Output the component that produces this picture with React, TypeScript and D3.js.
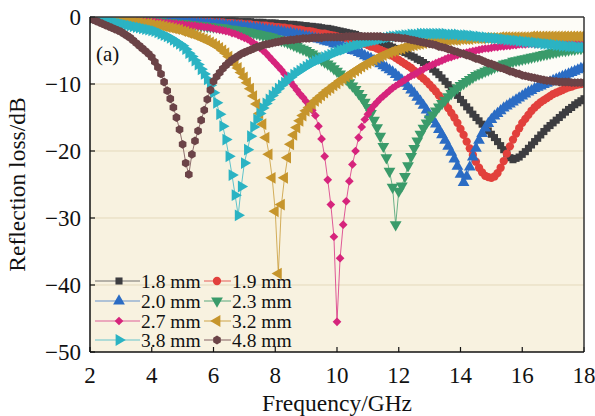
import * as d3 from 'd3'

// frequency grid (GHz)
const freqs = d3.range(161).map(i => Math.round((2 + i * 0.1) * 10) / 10)

const yTicks = [0, -10, -20, -30, -40, -50]
const xTicks = [2, 4, 6, 8, 10, 12, 14, 16, 18]

// reflection loss (dB), one array per thickness
const rl18 = [
  0, 0, -0.1, -0.1, -0.1, -0.1, -0.1, -0.2, -0.2, -0.2,
  -0.2, -0.2, -0.2, -0.2, -0.3, -0.3, -0.3, -0.3, -0.3, -0.3,
  -0.3, -0.3, -0.3, -0.4, -0.4, -0.4, -0.4, -0.4, -0.4, -0.4,
  -0.4, -0.4, -0.4, -0.4, -0.5, -0.5, -0.5, -0.5, -0.5, -0.5,
  -0.5, -0.5, -0.5, -0.6, -0.6, -0.6, -0.6, -0.6, -0.7, -0.7,
  -0.7, -0.7, -0.7, -0.8, -0.8, -0.8, -0.8, -0.9, -0.9, -0.9,
  -0.9, -1.0, -1.0, -1.0, -1.1, -1.1, -1.1, -1.2, -1.2, -1.3,
  -1.3, -1.4, -1.4, -1.5, -1.5, -1.6, -1.7, -1.7, -1.8, -1.9,
  -2.0, -2.1, -2.2, -2.3, -2.4, -2.5, -2.6, -2.8, -2.9, -3.0,
  -3.2, -3.3, -3.5, -3.6, -3.8, -3.9, -4.1, -4.3, -4.5, -4.7,
  -4.9, -5.1, -5.3, -5.5, -5.8, -6.0, -6.3, -6.5, -6.8, -7.1,
  -7.4, -7.8, -8.2, -8.6, -9.1, -9.6, -10.1, -10.6, -11.2, -11.7,
  -12.3, -12.8, -13.4, -13.9, -14.5, -15.0, -15.5, -16.0, -16.5, -17.0,
  -17.5, -18.0, -18.6, -19.2, -19.8, -20.4, -21.0, -21.3, -21.1, -20.9,
  -20.5, -20.1, -19.6, -19.1, -18.6, -18.1, -17.6, -17.1, -16.6, -16.2,
  -15.8, -15.4, -15.0, -14.6, -14.2, -13.8, -13.5, -13.1, -12.8, -12.5,
  -12.2,
]

const rl19 = [
  0, 0, -0.1, -0.1, -0.1, -0.1, -0.1, -0.2, -0.2, -0.2,
  -0.2, -0.2, -0.2, -0.3, -0.3, -0.3, -0.3, -0.3, -0.3, -0.4,
  -0.4, -0.4, -0.4, -0.4, -0.4, -0.5, -0.5, -0.5, -0.5, -0.5,
  -0.5, -0.6, -0.6, -0.6, -0.6, -0.6, -0.7, -0.7, -0.7, -0.7,
  -0.8, -0.8, -0.8, -0.8, -0.9, -0.9, -0.9, -1.0, -1.0, -1.0,
  -1.1, -1.1, -1.1, -1.2, -1.2, -1.3, -1.3, -1.3, -1.4, -1.4,
  -1.5, -1.5, -1.6, -1.6, -1.7, -1.7, -1.8, -1.9, -1.9, -2.0,
  -2.1, -2.1, -2.2, -2.3, -2.4, -2.5, -2.5, -2.6, -2.7, -2.8,
  -2.9, -3.0, -3.1, -3.2, -3.4, -3.5, -3.6, -3.7, -3.9, -4.0,
  -4.2, -4.4, -4.5, -4.7, -4.9, -5.1, -5.3, -5.6, -5.8, -6.1,
  -6.4, -6.7, -7.0, -7.3, -7.6, -8.0, -8.4, -8.8, -9.2, -9.6,
  -10.1, -10.6, -11.1, -11.7, -12.3, -12.9, -13.6, -14.3, -15.0, -15.8,
  -16.7, -17.6, -18.6, -19.6, -20.6, -21.6, -22.5, -23.2, -23.7, -23.9,
  -24.0, -23.8, -23.3, -22.5, -21.5, -20.4, -19.3, -18.3, -17.4, -16.6,
  -15.8, -15.2, -14.6, -14.0, -13.5, -13.1, -12.7, -12.4, -12.1, -11.8,
  -11.5, -11.3, -11.1, -10.9, -10.7, -10.5, -10.4, -10.2, -10.1, -10.0,
  -9.9,
]

const rl20 = [
  0, 0, -0.1, -0.1, -0.1, -0.1, -0.2, -0.2, -0.2, -0.2,
  -0.3, -0.3, -0.3, -0.3, -0.3, -0.4, -0.4, -0.4, -0.4, -0.5,
  -0.5, -0.5, -0.5, -0.6, -0.6, -0.6, -0.6, -0.7, -0.7, -0.7,
  -0.7, -0.8, -0.8, -0.8, -0.9, -0.9, -0.9, -1.0, -1.0, -1.0,
  -1.1, -1.1, -1.1, -1.2, -1.2, -1.3, -1.3, -1.3, -1.4, -1.4,
  -1.5, -1.5, -1.6, -1.6, -1.7, -1.7, -1.8, -1.9, -1.9, -2.0,
  -2.1, -2.1, -2.2, -2.3, -2.4, -2.4, -2.5, -2.6, -2.7, -2.8,
  -2.9, -3.0, -3.1, -3.2, -3.3, -3.4, -3.6, -3.7, -3.8, -4.0,
  -4.1, -4.3, -4.4, -4.6, -4.8, -5.0, -5.1, -5.3, -5.5, -5.8,
  -6.0, -6.2, -6.5, -6.7, -7.0, -7.3, -7.6, -7.9, -8.2, -8.6,
  -9.0, -9.4, -9.9, -10.4, -10.9, -11.4, -12.0, -12.6, -13.2, -13.9,
  -14.6, -15.3, -16.0, -16.8, -17.6, -18.4, -19.3, -20.2, -21.2, -22.3,
  -23.5, -24.7, -23.8, -22.4, -20.9, -19.6, -18.4, -17.4, -16.6, -15.9,
  -15.3, -14.8, -14.4, -14.0, -13.6, -13.3, -13.0, -12.7, -12.4, -12.1,
  -11.8, -11.5, -11.2, -11.0, -10.7, -10.5, -10.3, -10.1, -9.9, -9.7,
  -9.5, -9.3, -9.1, -8.9, -8.7, -8.5, -8.3, -8.1, -7.9, -7.7,
  -7.6,
]

const rl23 = [
  0, 0, -0.1, -0.1, -0.1, -0.2, -0.2, -0.2, -0.3, -0.3,
  -0.3, -0.3, -0.4, -0.4, -0.4, -0.5, -0.5, -0.5, -0.6, -0.6,
  -0.6, -0.7, -0.7, -0.7, -0.8, -0.8, -0.8, -0.9, -0.9, -1.0,
  -1.0, -1.0, -1.1, -1.1, -1.2, -1.2, -1.3, -1.3, -1.4, -1.4,
  -1.5, -1.5, -1.6, -1.6, -1.7, -1.8, -1.8, -1.9, -2.0, -2.0,
  -2.1, -2.2, -2.3, -2.4, -2.5, -2.6, -2.7, -2.8, -2.9, -3.0,
  -3.2, -3.3, -3.5, -3.6, -3.8, -4.0, -4.2, -4.4, -4.6, -4.8,
  -5.0, -5.3, -5.5, -5.8, -6.1, -6.4, -6.7, -7.0, -7.3, -7.7,
  -8.1, -8.5, -8.9, -9.3, -9.8, -10.3, -10.8, -11.4, -12.0, -12.7,
  -13.5, -14.4, -15.4, -16.5, -17.8, -19.3, -21.0, -23.0, -25.4, -31.0,
  -26.0, -25.2, -23.8, -22.2, -20.8, -19.6, -18.5, -17.5, -16.6, -15.8,
  -15.2, -14.6, -14.0, -13.4, -12.9, -12.4, -11.9, -11.4, -11.0, -10.6,
  -10.2, -9.9, -9.6, -9.3, -9.0, -8.7, -8.5, -8.3, -8.1, -7.9,
  -7.7, -7.5, -7.3, -7.2, -7.0, -6.9, -6.8, -6.6, -6.5, -6.4,
  -6.3, -6.2, -6.1, -6.0, -5.9, -5.8, -5.7, -5.6, -5.5, -5.4,
  -5.3, -5.2, -5.1, -5.0, -5.0, -4.9, -4.8, -4.8, -4.7, -4.7,
  -4.6,
]

const rl27 = [
  0, -0.1, -0.1, -0.1, -0.2, -0.2, -0.2, -0.3, -0.3, -0.3,
  -0.4, -0.4, -0.4, -0.5, -0.5, -0.5, -0.6, -0.6, -0.6, -0.7,
  -0.7, -0.7, -0.8, -0.8, -0.9, -0.9, -0.9, -1.0, -1.0, -1.1,
  -1.1, -1.2, -1.2, -1.3, -1.3, -1.4, -1.4, -1.5, -1.5, -1.6,
  -1.7, -1.8, -1.9, -2.0, -2.1, -2.2, -2.4, -2.5, -2.7, -2.9,
  -3.1, -3.3, -3.6, -3.9, -4.2, -4.6, -5.0, -5.4, -5.9, -6.4,
  -6.9, -7.4, -7.9, -8.5, -9.1, -9.7, -10.3, -10.9, -11.5, -12.0,
  -12.6, -13.2, -13.9, -14.7, -16.3, -18.2, -20.8, -24.3, -28.0, -32.8,
  -45.5, -36.0, -31.0, -27.5, -24.5, -22.0, -20.0, -18.0, -16.4, -15.3,
  -14.5, -13.8, -13.2, -12.7, -12.2, -11.8, -11.4, -11.0, -10.6, -10.3,
  -10.0, -9.7, -9.4, -9.1, -8.8, -8.6, -8.3, -8.0, -7.8, -7.5,
  -7.3, -7.1, -6.9, -6.7, -6.5, -6.3, -6.1, -6.0, -5.8, -5.7,
  -5.5, -5.4, -5.3, -5.2, -5.1, -5.0, -4.9, -4.8, -4.7, -4.7,
  -4.6, -4.5, -4.5, -4.4, -4.4, -4.3, -4.3, -4.2, -4.2, -4.1,
  -4.1, -4.1, -4.0, -4.0, -4.0, -4.0, -3.9, -3.9, -3.9, -3.9,
  -3.9, -3.9, -3.9, -3.9, -3.9, -3.9, -3.9, -3.9, -3.9, -3.9,
  -3.9,
]

const rl32 = [
  0, -0.1, -0.1, -0.2, -0.2, -0.3, -0.3, -0.4, -0.4, -0.5,
  -0.5, -0.6, -0.6, -0.7, -0.7, -0.8, -0.8, -0.9, -1.0, -1.0,
  -1.1, -1.2, -1.2, -1.3, -1.4, -1.5, -1.6, -1.7, -1.8, -1.9,
  -2.1, -2.2, -2.4, -2.5, -2.7, -2.9, -3.1, -3.3, -3.5, -3.8,
  -4.0, -4.3, -4.6, -5.0, -5.4, -5.9, -6.4, -7.0, -7.6, -8.3,
  -9.0, -9.8, -10.7, -11.8, -13.0, -14.4, -16.0, -18.0, -20.5, -24.0,
  -29.0, -38.3, -28.0, -24.0, -21.0, -19.0, -17.6, -16.5, -15.5, -14.7,
  -14.0, -13.5, -13.0, -12.5, -12.1, -11.7, -11.3, -10.9, -10.6, -10.2,
  -9.9, -9.5, -9.2, -8.9, -8.6, -8.3, -8.0, -7.7, -7.4, -7.1,
  -6.9, -6.6, -6.4, -6.1, -5.9, -5.7, -5.5, -5.3, -5.1, -5.0,
  -4.8, -4.7, -4.5, -4.4, -4.3, -4.2, -4.1, -4.0, -3.9, -3.8,
  -3.8, -3.7, -3.7, -3.6, -3.6, -3.5, -3.5, -3.4, -3.4, -3.4,
  -3.3, -3.3, -3.3, -3.3, -3.2, -3.2, -3.2, -3.2, -3.1, -3.1,
  -3.1, -3.1, -3.1, -3.0, -3.0, -3.0, -3.0, -3.0, -3.0, -3.0,
  -3.0, -3.0, -3.0, -2.9, -2.9, -2.9, -2.9, -2.9, -2.9, -2.9,
  -2.9, -2.9, -2.9, -2.9, -2.9, -2.9, -2.9, -2.9, -2.9, -2.9,
  -2.9,
]

const rl38 = [
  0, -0.1, -0.2, -0.3, -0.4, -0.5, -0.6, -0.7, -0.8, -0.9,
  -1.0, -1.1, -1.2, -1.3, -1.4, -1.5, -1.6, -1.7, -1.8, -1.9,
  -2.0, -2.1, -2.3, -2.5, -2.7, -2.9, -3.1, -3.4, -3.7, -4.0,
  -4.3, -4.8, -5.4, -5.9, -6.5, -7.1, -7.8, -8.5, -9.3, -10.2,
  -11.3, -12.8, -14.5, -16.3, -18.3, -20.8, -23.6, -26.6, -29.6, -25.3,
  -21.8, -19.8, -17.8, -16.4, -15.3, -14.4, -13.6, -12.9, -12.3, -11.7,
  -11.2, -10.7, -10.2, -9.8, -9.4, -9.0, -8.6, -8.3, -8.0, -7.7,
  -7.4, -7.1, -6.9, -6.6, -6.4, -6.2, -6.0, -5.8, -5.6, -5.4,
  -5.2, -5.0, -4.9, -4.7, -4.5, -4.4, -4.2, -4.1, -4.0, -3.8,
  -3.7, -3.6, -3.5, -3.4, -3.3, -3.2, -3.1, -3.0, -2.9, -2.9,
  -2.8, -2.8, -2.7, -2.7, -2.6, -2.6, -2.6, -2.5, -2.5, -2.5,
  -2.5, -2.5, -2.5, -2.5, -2.5, -2.5, -2.6, -2.6, -2.6, -2.6,
  -2.7, -2.7, -2.7, -2.8, -2.8, -2.9, -2.9, -3.0, -3.0, -3.1,
  -3.1, -3.2, -3.2, -3.3, -3.3, -3.4, -3.4, -3.5, -3.5, -3.6,
  -3.6, -3.7, -3.7, -3.8, -3.8, -3.9, -3.9, -4.0, -4.0, -4.1,
  -4.1, -4.2, -4.2, -4.3, -4.3, -4.4, -4.4, -4.4, -4.5, -4.5,
  -4.5,
]

const rl48 = [
  -0.3, -0.4, -0.6, -0.8, -1.0, -1.2, -1.4, -1.6, -1.8, -2.0,
  -2.2, -2.5, -2.8, -3.1, -3.5, -3.9, -4.3, -4.7, -5.1, -5.5,
  -6.0, -6.7, -7.5, -8.5, -9.7, -11.0, -12.2, -13.5, -15.0, -16.8,
  -19.0, -21.8, -23.5, -20.5, -18.5, -17.0, -15.4, -13.9, -12.3, -10.9,
  -9.6, -8.9, -8.3, -7.7, -7.2, -6.8, -6.4, -6.1, -5.8, -5.5,
  -5.3, -5.1, -4.9, -4.7, -4.5, -4.4, -4.2, -4.1, -4.0, -3.9,
  -3.8, -3.7, -3.6, -3.5, -3.5, -3.4, -3.4, -3.3, -3.3, -3.2,
  -3.2, -3.2, -3.1, -3.1, -3.1, -3.1, -3.0, -3.0, -3.0, -3.0,
  -3.0, -3.0, -3.0, -2.9, -2.9, -2.9, -2.9, -2.9, -2.9, -2.9,
  -2.9, -2.9, -2.9, -2.9, -2.9, -3.0, -3.0, -3.0, -3.0, -3.1,
  -3.1, -3.2, -3.2, -3.3, -3.4, -3.5, -3.6, -3.7, -3.8, -3.9,
  -4.0, -4.1, -4.2, -4.4, -4.5, -4.6, -4.8, -4.9, -5.1, -5.2,
  -5.4, -5.5, -5.7, -5.8, -6.0, -6.2, -6.3, -6.5, -6.7, -6.9,
  -7.0, -7.2, -7.4, -7.6, -7.7, -7.9, -8.1, -8.2, -8.4, -8.5,
  -8.7, -8.8, -8.9, -9.0, -9.1, -9.2, -9.3, -9.4, -9.5, -9.5,
  -9.6, -9.6, -9.7, -9.7, -9.7, -9.7, -9.8, -9.8, -9.8, -9.8,
  -9.8,
]

const labels = ['1.8 mm', '1.9 mm', '2.0 mm', '2.3 mm', '2.7 mm', '3.2 mm', '3.8 mm', '4.8 mm']
const values = [rl18, rl19, rl20, rl23, rl27, rl32, rl38, rl48]
const colors = ['#3d3d40', '#e2403c', '#2b6cc4', '#3a9b6a', '#d6247c', '#c6952c', '#2bb3c3', '#6b4347']
const shapes = ['square', 'circle', 'up', 'down', 'diamond', 'left', 'right', 'hex']

const W = 595
const H = 416
const margin = { top: 17, right: 11, bottom: 64, left: 90 }
const FONT = '"Liberation Serif", "Times New Roman", serif'

const hexPath = (() => {
  const r = 4.4
  const pts = d3.range(6).map(i => {
    const a = (Math.PI / 3) * i + Math.PI / 6
    return [r * Math.cos(a), r * Math.sin(a)]
  })
  return 'M' + pts.map(p => p.join(',')).join('L') + 'Z'
})()

function markerPath(shape) {
  switch (shape) {
    case 'square': return d3.symbol(d3.symbolSquare, 50)()
    case 'circle': return d3.symbol(d3.symbolCircle, 54)()
    case 'diamond': return d3.symbol(d3.symbolSquare, 38)()
    case 'hex': return hexPath
    default: return d3.symbol(d3.symbolTriangle, 60)()
  }
}

function markerRotate(shape) {
  if (shape === 'down') return 180
  if (shape === 'left') return -90
  if (shape === 'right') return 90
  if (shape === 'diamond') return 45
  return 0
}

export default function App() {
  const iw = W - margin.left - margin.right
  const ih = H - margin.top - margin.bottom

  const x = d3.scaleLinear().domain([2, 18]).range([0, iw])
  const y = d3.scaleLinear().domain([0, -50]).range([0, ih])

  const line = d3.line<number>()
    .x((_, i) => x(freqs[i]))
    .y(d => y(d))

  const legendRows = [281, 301, 321, 340].map(v => v - margin.top)
  const legendCols = [
    { x1: 5, x2: 50, m: 29, tx: 51 },
    { x1: 114, x2: 141, m: 127, tx: 142 },
  ]

  return (
    <svg width={W} height={H} style={{ display: 'block', position: 'absolute', left: 0, top: 0 }}>
      <defs>
        <clipPath id="plot-clip">
          <rect x={0} y={0} width={iw} height={ih} />
        </clipPath>
      </defs>
      <g transform={`translate(${margin.left},${margin.top})`}>
        {/* background bands */}
        <rect x={0} y={0} width={iw} height={y(-10)} fill="#fdfcf7" />
        <rect x={0} y={y(-10)} width={iw} height={ih - y(-10)} fill="#f8f2e0" />
        {yTicks.slice(1, -1).map(t => (
          <line key={t} x1={0} x2={iw} y1={y(t)} y2={y(t)} stroke="#e4d9bb" strokeWidth={1} />
        ))}

        {/* curves */}
        <g clipPath="url(#plot-clip)">
          {values.map((vals, si) => (
            <g key={labels[si]}>
              <path d={line(vals)} fill="none" stroke={colors[si]} strokeOpacity={0.75} strokeWidth={1} />
              {vals.map((v, i) => (
                <path
                  key={i}
                  d={markerPath(shapes[si])}
                  transform={`translate(${x(freqs[i])},${y(v)}) rotate(${markerRotate(shapes[si])})`}
                  fill={colors[si]}
                />
              ))}
            </g>
          ))}
        </g>

        {/* legend */}
        {labels.map((lab, i) => {
          const col = legendCols[i % 2]
          const cy = legendRows[Math.floor(i / 2)]
          return (
            <g key={lab}>
              <line x1={col.x1} x2={col.x2} y1={cy} y2={cy} stroke={colors[i]} strokeOpacity={0.7} strokeWidth={1.2} />
              <path
                d={markerPath(shapes[i])}
                transform={`translate(${col.m},${cy}) rotate(${markerRotate(shapes[i])})`}
                fill={colors[i]}
              />
              <text x={col.tx} y={cy + 6.5} fontFamily={FONT} fontSize={19.5} fill="#111">{lab}</text>
            </g>
          )
        })}

        {/* ticks */}
        {xTicks.map(t => (
          <g key={t}>
            <line x1={x(t)} x2={x(t)} y1={ih} y2={ih - 5} stroke="#111" strokeWidth={1.2} />
            <text x={x(t)} y={ih + 31} textAnchor="middle" fontFamily={FONT} fontSize={23} fill="#111">{t}</text>
          </g>
        ))}
        {yTicks.map(t => (
          <g key={t}>
            <line x1={0} x2={5} y1={y(t)} y2={y(t)} stroke="#111" strokeWidth={1.2} />
            <text x={-9} y={y(t) + 7.5} textAnchor="end" fontFamily={FONT} fontSize={23} fill="#111">
              {t === 0 ? '0' : `\u2212${Math.abs(t)}`}
            </text>
          </g>
        ))}

        {/* frame */}
        <line x1={0} x2={iw} y1={0} y2={0} stroke="#333" strokeWidth={1.5} />
        <line x1={iw} x2={iw} y1={0} y2={ih} stroke="#333" strokeWidth={1.5} />
        <line x1={0} x2={iw} y1={ih} y2={ih} stroke="#111" strokeWidth={1.5} />
        <line x1={0} x2={0} y1={0} y2={ih} stroke="#111" strokeWidth={1.5} />

        <text x={6} y={44} fontFamily={FONT} fontSize={21} fill="#111">(a)</text>
      </g>

      <text
        transform={`translate(25,${margin.top + ih / 2}) rotate(-90)`}
        textAnchor="middle"
        fontFamily={FONT}
        fontSize={23.5}
        fill="#111"
      >
        Reflection loss/dB
      </text>
      <text x={margin.left + iw / 2} y={411} textAnchor="middle" fontFamily={FONT} fontSize={23.5} fill="#111">
        Frequency/GHz
      </text>
    </svg>
  )
}
